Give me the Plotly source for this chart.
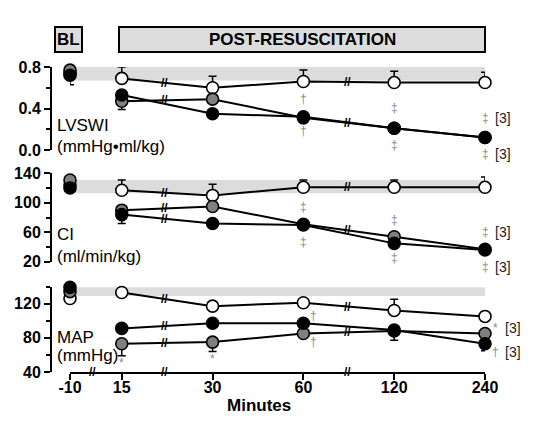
import plotly.graph_objects as go

# ---------------- data ----------------
minutes = [-10, 15, 30, 60, 120, 240]
tick_labels = ["-10", "15", "30", "60", "120", "240"]

# LVSWI (mmHg·ml/kg)
lvswi_open = [0.74, 0.69, 0.60, 0.66, 0.65, 0.65]
lvswi_open_err = [0.0, 0.11, 0.11, 0.11, 0.11, 0.10]
lvswi_gray = [0.77, 0.47, 0.49, 0.31, 0.21, 0.12]
lvswi_gray_err = [0.0, 0.08, 0.0, 0.0, 0.0, 0.0]
lvswi_black = [0.72, 0.53, 0.35, 0.32, 0.21, 0.12]
lvswi_black_err = [0.09, 0.0, 0.0, 0.0, 0.0, 0.0]
lvswi_normal = [0.67, 0.82]

# CI (ml/min/kg)
ci_open = [124, 117, 110, 121, 121, 121]
ci_open_err = [0, 14, 15, 10, 10, 14]
ci_gray = [131, 90, 95, 71, 54, 37]
ci_gray_err = [0, 0, 0, 0, 0, 0]
ci_black = [120, 84, 72, 70, 45, 36]
ci_black_err = [0, 12, 0, 0, 0, 0]
ci_normal = [113, 131]

# MAP (mmHg)
map_open = [126, 133, 117, 121, 112, 105]
map_open_err = [0, 0, 0, 0, 13, 0]
map_gray = [134, 73, 75, 85, 88, 85]
map_gray_err = [0, 14, 11, 0, 0, 0]
map_black = [139, 91, 97, 97, 89, 73]
map_black_err = [0, 0, 0, 0, 12, 8]
map_normal = [129, 139]

# significance marks: (panel, minute index, series, symbol, yshift px, xshift px, label)
sig_marks = [
    (0, 3, "black", "†", 18, 0, ""), (0, 3, "black", "†", -14, 0, ""),
    (0, 4, "black", "‡", 20, 0, ""), (0, 4, "black", "‡", -17, 0, ""),
    (0, 5, "black", "‡", 20, 0, "[3]"), (0, 5, "black", "‡", -16, 0, "[3]"),
    (1, 3, "black", "‡", 18, 0, ""), (1, 3, "black", "‡", -17, 0, ""),
    (1, 4, "black", "‡", 23, 0, ""), (1, 4, "black", "‡", -15, 0, ""),
    (1, 5, "black", "‡", 18, 0, "[3]"), (1, 5, "black", "‡", -17, 0, "[3]"),
    (2, 1, "gray", "*", -19, 0, ""), (2, 2, "gray", "*", -17, 0, ""),
    (2, 3, "black", "†", 7, 10, ""), (2, 3, "gray", "†", -8, 10, ""),
    (2, 5, "gray", "*", 6, 10, "[3]"), (2, 5, "black", "†", -8, 10, "[3]"),
]

BL_POS = -0.57          # broken axis: baseline sits before the first break
BREAKS_AXIS = [-0.32, 0.47, 2.49]
BREAKS_LINE = [(1, 2, 0.47), (3, 4, 0.49)]   # (from idx, to idx, fraction)


def pos(i):
    return BL_POS if i == 0 else i - 1


xs = [pos(i) for i in range(len(minutes))]

panels = [
    dict(yref="y", open=lvswi_open, open_err=lvswi_open_err, gray=lvswi_gray,
         gray_err=lvswi_gray_err, black=lvswi_black, black_err=lvswi_black_err,
         normal=lvswi_normal, rng=[0, 0.8], h=83.0),
    dict(yref="y2", open=ci_open, open_err=ci_open_err, gray=ci_gray,
         gray_err=ci_gray_err, black=ci_black, black_err=ci_black_err,
         normal=ci_normal, rng=[20, 140], h=88.5),
    dict(yref="y3", open=map_open, open_err=map_open_err, gray=map_gray,
         gray_err=map_gray_err, black=map_black, black_err=map_black_err,
         normal=map_normal, rng=[40, 140], h=85.5),
]

fills = {"open": "white", "gray": "#808080", "black": "black"}

fig = go.Figure()
shapes = []
annotations = []

for p in panels:
    yref = p["yref"]
    ppu = p["h"] / (p["rng"][1] - p["rng"][0])
    shapes.append(dict(type="rect", xref="x", yref=yref, x0=xs[0], x1=xs[-1],
                       y0=p["normal"][0], y1=p["normal"][1],
                       fillcolor="#dcdcdc", line=dict(width=0), layer="below"))
    breaks_done = []
    for key in ["open", "gray", "black"]:
        vals = p[key]
        errs = p[key + "_err"]
        zeros = [0] * len(errs)
        up = key == "open"
        err = dict(type="data", symmetric=False,
                   array=errs if up else zeros,
                   arrayminus=zeros if up else errs,
                   color="black", thickness=1.5, width=4)
        marker = dict(size=12, color=fills[key], line=dict(color="black", width=1.6))
        # baseline
        fig.add_trace(go.Scatter(
            x=xs[:1], y=vals[:1], mode="markers", yaxis=yref, xaxis="x",
            marker=marker, cliponaxis=False,
            error_y=dict(err, array=err["array"][:1], arrayminus=err["arrayminus"][:1])))
        # post-resuscitation
        fig.add_trace(go.Scatter(
            x=xs[1:], y=vals[1:], mode="lines+markers", yaxis=yref, xaxis="x",
            line=dict(color="black", width=2), marker=marker, cliponaxis=False,
            error_y=dict(err, array=err["array"][1:], arrayminus=err["arrayminus"][1:])))
        # break marks on lines (one mark where lines coincide)
        for a, b, f in BREAKS_LINE:
            xb = xs[a] + f * (xs[b] - xs[a])
            yb = vals[a] + f * (vals[b] - vals[a])
            if any(abs(xb - x0) < 1e-9 and abs(yb - y0) * ppu < 7 for x0, y0 in breaks_done):
                continue
            breaks_done.append((xb, yb))
            annotations.append(dict(x=xb, y=yb, xref="x", yref=yref, text="<b>//</b>",
                                    showarrow=False, font=dict(size=12, color="black"),
                                    xanchor="center", yanchor="middle"))

# break marks on the x axis
for xb in BREAKS_AXIS:
    annotations.append(dict(x=xb, y=40, xref="x", yref="y3", text="<b>//</b>",
                            showarrow=False, font=dict(size=12, color="black"),
                            xanchor="center", yanchor="middle"))

# significance marks
for panel, idx, ser, sym, ys, xsft, lab in sig_marks:
    p = panels[panel]
    yv = p[ser][idx]
    annotations.append(dict(x=xs[idx], y=yv, xref="x", yref=p["yref"], text=sym,
                            showarrow=False, yshift=ys, xshift=xsft,
                            xanchor="center", yanchor="middle",
                            font=dict(size=12, color="#8a8a8a")))
    if lab:
        annotations.append(dict(x=xs[idx], y=yv, xref="x", yref=p["yref"], text=lab,
                                showarrow=False, yshift=ys, xshift=xsft + 8,
                                xanchor="left", yanchor="middle",
                                font=dict(size=14, color="#222222")))


def px(xp):
    return (xp - 51) / 434


def py(yp):
    return (372 - yp) / 305


# panel labels
labels = [("LVSWI", 125), ("(mmHg•ml/kg)", 146), ("CI", 234), ("(ml/min/kg)", 256),
          ("MAP", 337), ("(mmHg)", 355)]
for txt, yp in labels:
    annotations.append(dict(x=px(55), y=py(yp), xref="paper", yref="paper", text=txt,
                            showarrow=False, xanchor="left", yanchor="middle",
                            font=dict(size=17, color="black")))

# header boxes
shapes.append(dict(type="rect", xref="paper", yref="paper", x0=px(55), x1=px(82),
                   y0=py(52), y1=py(27), line=dict(color="black", width=2),
                   fillcolor="#dcdcdc", layer="below"))
shapes.append(dict(type="rect", xref="paper", yref="paper", x0=px(119), x1=px(485),
                   y0=py(52), y1=py(27), line=dict(color="black", width=2),
                   fillcolor="#dcdcdc", layer="below"))
annotations.append(dict(x=px(68.5), y=py(39.5), xref="paper", yref="paper",
                        text="<b>BL</b>", showarrow=False,
                        xanchor="center", yanchor="middle",
                        font=dict(size=17, color="black")))
annotations.append(dict(x=px(302), y=py(39.5), xref="paper", yref="paper",
                        text="<b>POST-RESUSCITATION</b>", showarrow=False,
                        xanchor="center", yanchor="middle",
                        font=dict(size=17, color="black")))
annotations.append(dict(x=px(259), y=py(405), xref="paper", yref="paper",
                        text="<b>Minutes</b>", showarrow=False,
                        xanchor="center", yanchor="middle",
                        font=dict(size=17, color="black")))

tickfont = dict(size=16, color="black", weight="bold")
yaxis_common = dict(anchor="free", position=0, showline=True, linewidth=2,
                    linecolor="black", ticks="outside", ticklen=6, tickwidth=2,
                    tickcolor="black", showgrid=False, zeroline=False,
                    tickfont=tickfont, automargin=False)

# the page body adds an 8px offset, so the figure is 8px smaller than the window
fig.update_layout(
    width=528, height=422,
    margin=dict(l=43, r=51, t=59, b=58, autoexpand=False),
    plot_bgcolor="white", paper_bgcolor="white", showlegend=False,
    font=dict(family="Arial, Liberation Sans, sans-serif", color="black"),
    xaxis=dict(domain=[px(70), 1], range=[BL_POS, 4], anchor="y3", showline=True,
               linewidth=2, linecolor="black", ticks="outside", ticklen=6,
               tickwidth=2, tickcolor="black", tickvals=xs, ticktext=tick_labels,
               tickfont=tickfont, showgrid=False, zeroline=False, automargin=False,
               ticklabelstandoff=-6),
    yaxis=dict(yaxis_common, domain=[py(150), 1], range=[0, 0.8],
               tickvals=[0, 0.4, 0.8], tickformat=".1f",
               minor=dict(tickvals=[0.2, 0.6], ticks="outside", ticklen=4,
                          tickwidth=2, tickcolor="black")),
    yaxis2=dict(yaxis_common, domain=[py(261.8), py(173.3)], range=[20, 140],
                tickvals=[20, 60, 100, 140],
                minor=dict(tickvals=[40, 80, 120], ticks="outside", ticklen=4,
                           tickwidth=2, tickcolor="black")),
    yaxis3=dict(yaxis_common, domain=[0, py(286.5)], range=[40, 140],
                tickvals=[40, 80, 120],
                minor=dict(tickvals=[60, 100, 140], ticks="outside", ticklen=4,
                           tickwidth=2, tickcolor="black")),
    shapes=shapes,
    annotations=annotations,
)

fig.write_html("out.html")
